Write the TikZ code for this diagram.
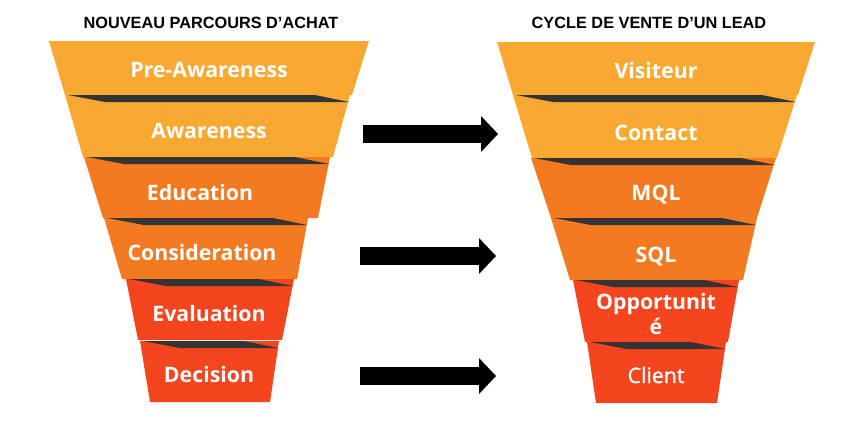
\documentclass[tikz,border=0pt]{standalone}
\usepackage{fontspec}
\setmainfont{Open Sans}
\newfontfamily\headfont{Liberation Sans}
\newfontfamily\semifont[FakeBold=1.4]{Open Sans}
\usetikzlibrary{arrows.meta,positioning,calc}
\definecolor{lightor}{HTML}{F9A932}
\definecolor{midor}{HTML}{F47A21}
\definecolor{redor}{HTML}{F5451F}
\definecolor{strip}{HTML}{343434}

\begin{document}
\begin{tikzpicture}[x=1pt,y=-1pt,
  lbl/.style={anchor=base,text=white,font=\fontsize{21.3}{25}\selectfont\bfseries,inner sep=0pt},
  head/.style={anchor=base,font=\headfont\fontsize{16.3}{19}\selectfont\bfseries,inner sep=0pt},
  blockarr/.style={line width=18pt,-{Triangle[length=17pt,width=36pt,line width=0pt]}}]
\useasboundingbox (0,0) rectangle (862,424);
% bands: top y / bottom y / top left / top right / bottom left / bottom right / colour
\foreach \yt/\yb/\tl/\tr/\bl/\br/\col in {
  41/95/49/369/65/352/lightor, 95/157/65/350/83/333/lightor,
  157/218/84/330/103/318/midor, 218/279/104/308/122/297/midor,
  279/340/126/294/138/282/redor, 341/402/140/279/150/270/redor,
  42/95/497/815/513/798/lightor, 95/158/513/797/532/777/lightor,
  158/218/531/776/551/757/midor, 218/280/551/757/570/743/midor,
  280/342/573/739/585/728/redor, 342/403/587/726/596/717/redor}
  \fill[\col] (\tl,\yt) -- (\tr,\yt) -- (\br,\yb) -- (\bl,\yb) -- cycle;
% twisted edge on top of each lower band
\foreach \yt/\tl/\tr in {95/65/350, 157/84/330, 218/104/308, 279/126/294, 341/140/279,
  95/513/797, 158/531/776, 218/551/757, 280/573/739, 342/587/726}
  \fill[strip] (\tl+3,\yt) -- (\tr-35,\yt) -- (\tr-1,\yt+7) -- (\tl+40,\yt+7) -- cycle;

\node[head] (t1) at (211,28.5) {NOUVEAU PARCOURS D’ACHAT};
\node[head] (t2) at (649,28.5) {CYCLE DE VENTE D’UN LEAD};

\node[lbl] (pre) at (209,77) {Pre-Awareness};
\node[lbl] (aw) at (209,138) {Awareness};
\node[lbl] (edu) at (200,200) {Education};
\node[lbl] (cons) at (202,260) {Consideration};
\node[lbl] (eval) at (209,321) {Evaluation};
\node[lbl] (dec) at (209,382) {Decision};

\node[lbl] (vis) at (656,78) {Visiteur};
\node[lbl] (cont) at (656,140) {Contact};
\node[lbl] (mql) at (656,200) {MQL};
\node[lbl] (sql) at (656,262) {SQL};
\node[lbl,anchor=center,align=center,font=\fontsize{21.3}{25}\selectfont\bfseries] (opp) at (656,314) {Opportunit\\é};
\node[lbl,font=\semifont\fontsize{21.3}{25}\selectfont] (cli) at (656,383) {Client};

\coordinate (a1s) at (363,134);
\coordinate (a1e) at (498,134);
\coordinate (a2s) at (360,256);
\coordinate (a2e) at (496,256);
\coordinate (a3s) at (360,376);
\coordinate (a3e) at (496,376);
\draw[blockarr] (a1s) -- (a1e);
\draw[blockarr] (a2s) -- (a2e);
\draw[blockarr] (a3s) -- (a3e);
\end{tikzpicture}
\end{document}
